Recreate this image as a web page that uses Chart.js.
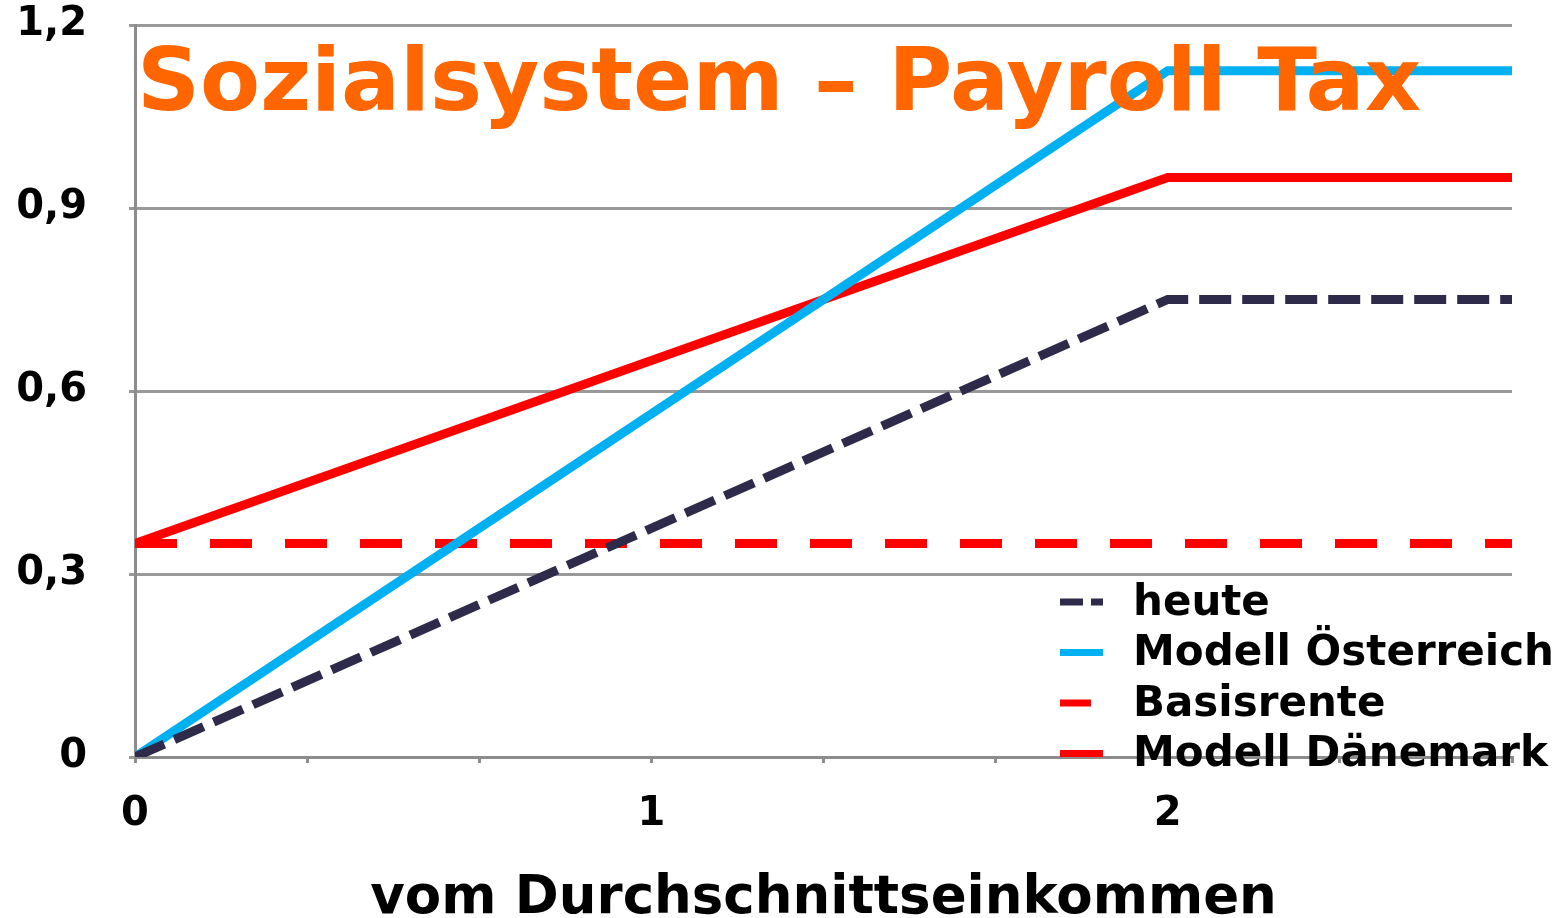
<!DOCTYPE html>
<html>
<head>
<meta charset="utf-8">
<script src="https://cdn.jsdelivr.net/npm/chart.js"></script>
<style>
    html, body { margin: 0; padding: 0; background: #ffffff; }
    .wrap { width: 1565px; height: 918px; position: relative; }
</style>
</head>
<body>
<div class="wrap"><canvas class="payroll-chart"></canvas></div>
<script>
    // x = multiple of average income, y = pension level
    var xPoints = [0, 2, 8 / 3];
    var heute = [0, 0.75, 0.75];
    var modellOesterreich = [0, 1.125, 1.125];
    var basisrente = [0.35, 0.35, 0.35];
    var modellDaenemark = [0.35, 0.95, 0.95];

    var seriesLabels = ["heute", "Modell Österreich", "Basisrente", "Modell Dänemark"];
    var chartTitle = "Sozialsystem \u2013 Payroll Tax";
    var xAxisTitle = "vom Durchschnittseinkommen";

    function toPoints(values) {
        return values.map(function(v, i) { return { x: xPoints[i], y: v }; });
    }

    Chart.defaults.font.family = "'DejaVu Sans', Verdana, sans-serif";
    Chart.defaults.font.weight = "bold";
    Chart.defaults.color = "#000000";

    var styles = [
        { color: "#2e2a4a", dash: [32, 11], legendDash: [23, 8], order: 0 },
        { color: "#00b0f0", dash: [], legendDash: [], order: 1 },
        { color: "#ff0000", dash: [42, 33], legendDash: [31, 40], order: 2 },
        { color: "#ff0000", dash: [], legendDash: [], order: 3 }
    ];
    var seriesData = [heute, modellOesterreich, basisrente, modellDaenemark];

    var overlayPlugin = {
        id: "overlay",
        afterDraw: function(chart) {
            var ctx = chart.ctx;
            ctx.save();
            // big orange title sitting inside the plot
            ctx.font = "bold 87.5px 'DejaVu Sans'";
            ctx.fillStyle = "#ff6600";
            ctx.textBaseline = "alphabetic";
            ctx.textAlign = "left";
            ctx.fillText(chartTitle, 137, 110);

            // legend in the lower right corner
            ctx.font = "bold 42px 'DejaVu Sans'";
            ctx.textBaseline = "middle";
            for (var i = 0; i < seriesLabels.length; i++) {
                var y = 602 + i * 50.5;
                ctx.strokeStyle = styles[i].color;
                ctx.lineWidth = 7;
                ctx.lineCap = "butt";
                ctx.setLineDash(styles[i].legendDash);
                ctx.beginPath();
                ctx.moveTo(1060, y);
                ctx.lineTo(1103, y);
                ctx.stroke();
                ctx.setLineDash([]);
                ctx.fillStyle = "#000000";
                ctx.fillText(seriesLabels[i], 1133, y + 2);
            }
            ctx.restore();
        }
    };

    new Chart(document.getElementsByClassName("payroll-chart")[0].getContext("2d"), {
        type: "line",
        data: {
            datasets: seriesData.map(function(values, i) {
                return {
                    label: seriesLabels[i],
                    data: toPoints(values),
                    borderColor: styles[i].color,
                    backgroundColor: styles[i].color,
                    borderDash: styles[i].dash,
                    borderWidth: 9,
                    borderCapStyle: "butt",
                    borderJoinStyle: "miter",
                    pointRadius: 0,
                    fill: false,
                    tension: 0,
                    order: styles[i].order
                };
            })
        },
        options: {
            responsive: true,
            maintainAspectRatio: false,
            animation: false,
            layout: {
                padding: { top: 25, right: 53, left: 0, bottom: 0 }
            },
            plugins: {
                legend: { display: false },
                title: { display: false },
                tooltip: { enabled: false }
            },
            scales: {
                x: {
                    type: "linear",
                    min: 0,
                    max: 8 / 3,
                    afterFit: function(scale) {
                        scale.height = 161;
                        scale.paddingLeft = 0;
                        scale.paddingRight = 0;
                    },
                    afterBuildTicks: function(scale) {
                        var ticks = [];
                        for (var k = 0; k <= 8; k++) ticks.push({ value: k / 3 });
                        scale.ticks = ticks;
                    },
                    ticks: {
                        autoSkip: false,
                        maxRotation: 0,
                        padding: 28,
                        font: { size: 40, weight: "bold" },
                        callback: function(value) {
                            return Math.abs(value - Math.round(value)) < 1e-6 ? String(Math.round(value)) : "";
                        }
                    },
                    grid: {
                        drawOnChartArea: false,
                        drawTicks: true,
                        tickLength: 6,
                        color: "#8c8c8c",
                        lineWidth: 3
                    },
                    border: { display: true, color: "#8c8c8c", width: 3 },
                    title: {
                        display: true,
                        text: xAxisTitle,
                        font: { size: 53, weight: "bold" },
                        color: "#000000",
                        padding: { top: 0, bottom: -13 }
                    }
                },
                y: {
                    min: 0,
                    max: 1.2,
                    afterFit: function(scale) {
                        scale.width = 135;
                        scale.paddingTop = 0;
                        scale.paddingBottom = 0;
                    },
                    ticks: {
                        stepSize: 0.3,
                        padding: 42,
                        font: { size: 40, weight: "bold" },
                        callback: function(value) {
                            if (Math.abs(value) < 1e-9) return "0";
                            return value.toFixed(1).replace(".", ",");
                        }
                    },
                    grid: {
                        drawOnChartArea: true,
                        drawTicks: true,
                        tickLength: 6,
                        color: "#999999",
                        lineWidth: 3
                    },
                    border: { display: true, color: "#8c8c8c", width: 3 }
                }
            }
        },
        plugins: [overlayPlugin]
    });
</script>
</body>
</html>
